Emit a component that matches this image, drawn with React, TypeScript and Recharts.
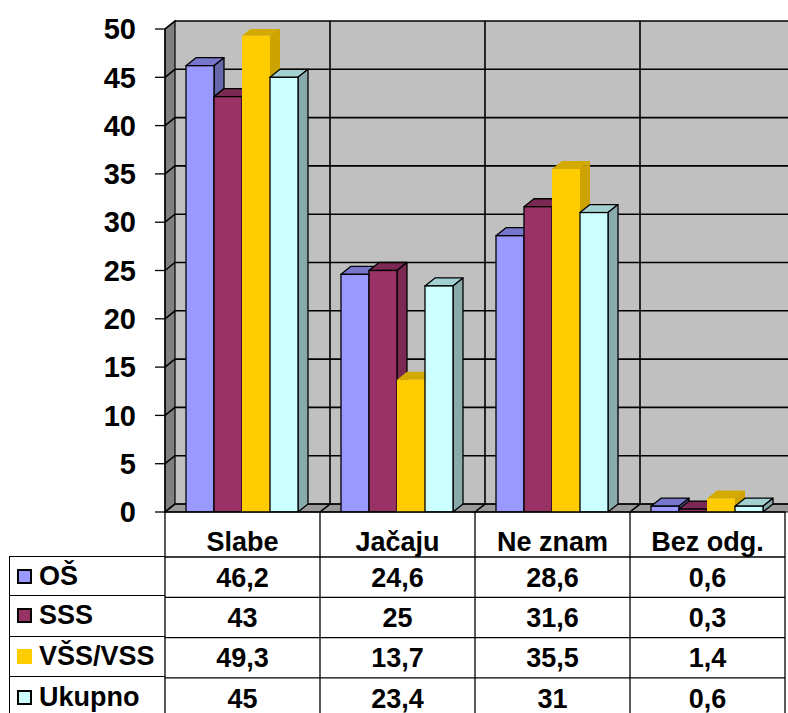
import React from 'react';
import { BarChart, Bar, XAxis, YAxis, CartesianGrid, ReferenceArea, ReferenceLine, Legend } from 'recharts';

const categories = ['Slabe', 'Jačaju', 'Ne znam', 'Bez odg.'];
const seriesNames = ['OŠ', 'SSS', 'VŠS/VSS', 'Ukupno'];
const osValues = [46.2, 24.6, 28.6, 0.6];
const sssValues = [43, 25, 31.6, 0.3];
const vssValues = [49.3, 13.7, 35.5, 1.4];
const ukupnoValues = [45, 23.4, 31, 0.6];
const yTicks = [0, 5, 10, 15, 20, 25, 30, 35, 40, 45, 50];

const seriesValues = [osValues, sssValues, vssValues, ukupnoValues];
const seriesKeys = ['os', 'sss', 'vss', 'ukupno'];
const seriesStyle = [
  { fill: '#9999FF', top: '#7676CC', side: '#6666AA', stroke: '#000' },
  { fill: '#993366', top: '#7A2952', side: '#7A2952', stroke: '#000' },
  { fill: '#FFCC00', top: '#D4AA00', side: '#CCA300', stroke: 'none' },
  { fill: '#CCFFFF', top: '#A3D1D1', side: '#88AAAA', stroke: '#000' },
];

const data = categories.map((c, i) => {
  const row: any = { name: c };
  seriesKeys.forEach((k, s) => { row[k] = seriesValues[s][i]; });
  return row;
});

const DX = 10;
const DY = 8;
const FONT = "'Liberation Sans', Arial, sans-serif";
const HEADER_H = 45;
const ROW_H = 40.3;
const BAND = 155;
const TABLE_BOTTOM = 720;

const fmt = (v: number) => String(v).replace('.', ',');

const Bar3D = (props: any) => {
  const { x, y, width, height, st } = props;
  if (x == null || y == null || !width) return null;
  const h = Math.max(height || 0, 0);
  const sw = st.stroke === 'none' ? 0 : 1.3;
  return (
    <g>
      <polygon
        points={`${x},${y} ${x + DX},${y - DY} ${x + width + DX},${y - DY} ${x + width},${y}`}
        fill={st.top} stroke={st.stroke} strokeWidth={sw} strokeLinejoin="round" />
      <polygon
        points={`${x + width},${y} ${x + width + DX},${y - DY} ${x + width + DX},${y + h - DY} ${x + width},${y + h}`}
        fill={st.side} stroke={st.stroke} strokeWidth={sw} strokeLinejoin="round" />
      <rect x={x} y={y} width={width} height={h} fill={st.fill} stroke={st.stroke} strokeWidth={sw} />
    </g>
  );
};

const Walls = (props: any) => {
  const { x, y, width, height } = props;
  const b = y + height;
  return (
    <g>
      <rect x={x + DX} y={y - DY} width={width + 20} height={height} fill="#C0C0C0" stroke="none" />
      <polygon points={`${x},${y} ${x + DX},${y - DY} ${x + DX},${b - DY} ${x},${b}`} fill="#808080" stroke="#000" strokeWidth={1.2} />
      <polygon points={`${x},${b} ${x + DX},${b - DY} ${x + width + DX + 20},${b - DY} ${x + width + 20},${b}`} fill="#9A9A9A" stroke="#000" strokeWidth={1.2} />
    </g>
  );
};

const gridLine = (p: any) => {
  const { x1, x2, y1, index } = p;
  return (
    <polyline key={`h-${index}`} points={`${x1},${y1} ${x1 + DX},${y1 - DY} ${x2 + DX + 20},${y1 - DY}`}
      fill="none" stroke="#000" strokeWidth={1.6} />
  );
};

const VLine = (p: any) => {
  const x = p.x1;
  const top = Math.min(p.y1, p.y2);
  const bot = Math.max(p.y1, p.y2);
  return (
    <polyline points={`${x + DX},${top - DY} ${x + DX},${bot - DY} ${x},${bot}`} fill="none" stroke="#000" strokeWidth={1.6} />
  );
};

const TableTick = (props: any) => {
  const { x, y, payload } = props;
  const i = categories.indexOf(payload.value);
  const left = x - BAND / 2;
  const right = x + BAND / 2;
  const rowsTop = y + HEADER_H;
  return (
    <g>
      <line x1={left} y1={y} x2={left} y2={TABLE_BOTTOM} stroke="#000" strokeWidth={1.3} />
      {i === categories.length - 1 && (
        <line x1={right} y1={y} x2={right} y2={TABLE_BOTTOM} stroke="#000" strokeWidth={1.3} />
      )}
      {seriesNames.map((_, r) => (
        <line key={r} x1={left} x2={right} y1={rowsTop + r * ROW_H} y2={rowsTop + r * ROW_H} stroke="#000" strokeWidth={1.3} />
      ))}
      <text x={x} y={y + 29} dy="0.355em" textAnchor="middle" fontFamily={FONT} fontWeight="bold" fontSize={27} fill="#000">
        {payload.value}
      </text>
      {seriesValues.map((vals, r) => (
        <text key={r} x={x} y={rowsTop + r * ROW_H + ROW_H / 2} dy="0.355em" textAnchor="middle"
          fontFamily={FONT} fontWeight="bold" fontSize={27} fill="#000">
          {fmt(vals[i])}
        </text>
      ))}
    </g>
  );
};

const LegendTable = () => (
  <div style={{ width: 156, fontFamily: FONT, fontWeight: 'bold', fontSize: 27, color: '#000', textAlign: 'left' }}>
    {seriesNames.map((n, r) => (
      <div key={n} style={{
        height: ROW_H, boxSizing: 'border-box', borderLeft: '1.3px solid #000',
        borderTop: r === 0 ? '1.3px solid #000' : 'none',
        borderBottom: r < seriesNames.length - 1 ? '1.3px solid #000' : 'none',
        display: 'flex', alignItems: 'center', paddingLeft: 7, whiteSpace: 'nowrap',
      }}>
        <span style={{
          display: 'inline-block', width: 15, height: 15, boxSizing: 'border-box', flex: 'none',
          background: seriesStyle[r].fill,
          border: seriesStyle[r].stroke === 'none' ? 'none' : '2px solid #000', marginRight: 7,
        }} />
        <span style={{ lineHeight: 1 }}>{n}</span>
      </div>
    ))}
  </div>
);

export default function App() {
  return (
    <div style={{ position: 'absolute', left: 0, top: 0, width: 788, height: 713, background: '#fff', overflow: 'hidden' }}>
      <BarChart width={788} height={713} data={data} margin={{ top: 29, right: 3, bottom: 0, left: 0 }}
        barCategoryGap={21} barGap={0}>
        <ReferenceArea y1={0} y2={50} shape={<Walls />} ifOverflow="visible" zIndex={-300} />
        <CartesianGrid horizontal={gridLine} vertical={false} zIndex={-200} />
        {categories.slice(1).map((c) => (
          <ReferenceLine key={c} x={c} position="start" shape={<VLine />} ifOverflow="visible" zIndex={-150} />
        ))}
        <XAxis dataKey="name" height={201} tickLine={false} tickSize={0} tickMargin={0}
          axisLine={{ stroke: '#000', strokeWidth: 1.6 }} tick={<TableTick />} interval={0} />
        <YAxis width={165} domain={[0, 50]} ticks={yTicks} type="number" allowDataOverflow
          tickSize={10} tickMargin={19} tickLine={{ stroke: '#000', strokeWidth: 1.3 }}
          axisLine={{ stroke: '#000', strokeWidth: 1.3 }}
          tick={{ fontFamily: FONT, fontWeight: 'bold', fontSize: 29, fill: '#000' }} />
        <Legend layout="horizontal" verticalAlign="middle" align="center" content={<LegendTable />}
          wrapperStyle={{ position: 'absolute', left: 9, top: 556, width: 156, height: 162 }} />
        {seriesKeys.map((k, s) => (
          <Bar key={k} dataKey={k} name={seriesNames[s]} fill={seriesStyle[s].fill} isAnimationActive={false}
            shape={(p: any) => <Bar3D {...p} st={seriesStyle[s]} />} />
        ))}
      </BarChart>
    </div>
  );
}
